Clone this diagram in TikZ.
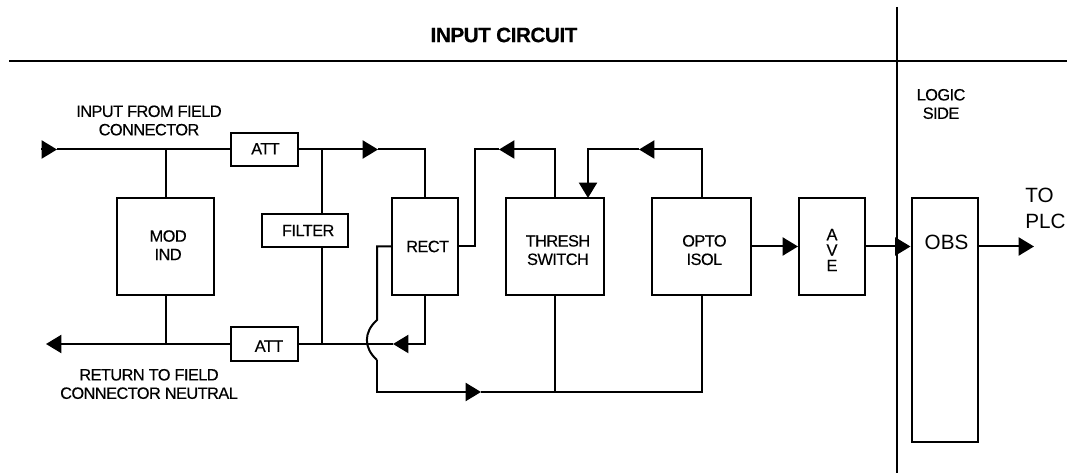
\documentclass[tikz,border=0pt]{standalone}
\usepackage{fontspec}
\setmainfont[LetterSpace=-3.6,FakeBold=0.3,BoldFeatures={LetterSpace=-2.5}]{Liberation Sans}
\newfontfamily\widefont{Liberation Sans}
\usetikzlibrary{arrows.meta}

\begin{document}
\begin{tikzpicture}[
  x=0.75pt, y=-0.75pt,
  wire/.style={line width=1.5pt},
  arr/.style={wire, -{Triangle[length=11.5pt, width=13.5pt]}},
  boxnode/.style={rectangle, draw, line width=1.5pt, inner sep=0pt, minimum width=#1*0.75pt},
  smalltxt/.style={font=\fontsize{12.3}{13.8}\selectfont, align=center, inner sep=0pt},
  bigtxt/.style={font=\widefont\fontsize{15.5}{19}\selectfont, align=left, inner sep=0pt}
]
  \useasboundingbox (0,0) rectangle (1067,473);

  \node[smalltxt, font=\bfseries\fontsize{15.6}{18}\selectfont] (title) at (504,35) {INPUT CIRCUIT};
  \draw[wire] (9,61.5) coordinate (hl) -- (1067,61.5) coordinate (hr);
  \draw[wire] (897,7) coordinate (vt) -- (897,473) coordinate (vb);

  \node[smalltxt] (infield) at (149,120.5) {INPUT FROM FIELD\\CONNECTOR};
  \node[smalltxt] (retfield) at (149,384) {RETURN TO FIELD\\CONNECTOR NEUTRAL};
  \node[smalltxt] (logic) at (941,104) {LOGIC\\SIDE};
  \node[bigtxt, anchor=west] (toplc) at (1025,208.5) {TO\\PLC};

  \node[boxnode=67, minimum height=25pt, label={[smalltxt, xshift=0.75pt, yshift=0.5pt]center:ATT}] (att1) at (264.5,149.5) {};
  \node[boxnode=67, minimum height=25pt, label={[smalltxt, xshift=3.4pt, yshift=-1.6pt]center:ATT}] (att2) at (264.5,344) {};
  \node[boxnode=97, minimum height=73pt, label={[smalltxt, xshift=2pt, yshift=1pt]center:MOD\\IND}] (mod) at (165.5,246.5) {};
  \node[boxnode=86, minimum height=25pt, label={[smalltxt, xshift=2.4pt]center:FILTER}] (filter) at (305,230.5) {};
  \node[boxnode=66, minimum height=73pt, label={[smalltxt, xshift=2pt]center:RECT}] (rect) at (425,246.5) {};
  \node[boxnode=98, minimum height=73pt, label={[smalltxt, xshift=2.2pt, yshift=-2.7pt]center:THRESH\\SWITCH}] (thresh) at (555,246.5) {};
  \node[boxnode=99, minimum height=73pt, label={[smalltxt, xshift=2.2pt, yshift=-2.7pt]center:OPTO\\ISOL}] (opto) at (701.5,246.5) {};
  \node[boxnode=66, minimum height=73pt, label={[smalltxt, font=\fontsize{12.3}{11.6}\selectfont, yshift=-2.7pt]center:A\\V\\E}] (ave) at (832,246.5) {};
  \node[boxnode=66, minimum height=183pt, label={[bigtxt, font=\widefont\fontsize{15.5}{18}\selectfont, xshift=1.5pt, yshift=58pt]center:OBS}] (obs) at (944.5,320) {};

  % arrow ends on the wires
  \coordinate (in0) at (41,149.5);
  \coordinate (in1) at (57,149.5);
  \coordinate (out1) at (46,344);
  \coordinate (fj) at (322,149.5);
  \coordinate (t1) at (378,149.5);
  \coordinate (t2) at (393,344);
  \coordinate (jt) at (377,320);
  \coordinate (jb) at (377,360);
  \coordinate (t3) at (481,392);
  \coordinate (r1) at (475,149.5);
  \coordinate (t4) at (499,149.5);
  \coordinate (t5) at (639,149.5);
  \coordinate (t6) at (588,198);
  \coordinate (t7) at (1034,246.5);

  \draw[arr] (in0) -- (in1);
  \draw[wire] (in1) -- (att1.west);
  \draw[wire] (mod.north) -- (mod.north |- in1);
  \draw[wire] (mod.south) -- (mod.south |- att2.west);
  \draw[arr] (att2.west) -- (out1);
  \draw[arr] (att1.east) -- (t1);
  \draw[wire] (t1) -| (rect.north);
  \draw[wire] (fj) -- (fj |- filter.north);
  \draw[wire] (fj |- filter.south) -- (fj |- att2.east);
  \draw[arr] (rect.south) |- (t2);
  \draw[wire] (t2) -- (att2.east);
  \draw[wire] (rect.west) -| (jt) .. controls (363.5,332) and (363.5,348) .. (jb);
  \draw[arr] (jb) |- (t3);
  \draw[wire] (t3) -| (opto.south);
  \draw[wire] (thresh.south) -- (thresh.south |- t3);
  \draw[arr] (thresh.north) |- (t4);
  \draw[wire] (t4) -- (r1) |- (rect.east);
  \draw[arr] (opto.north) |- (t5);
  \draw[arr] (t5) -| (t6);
  \draw[arr] (opto.east) -- (ave.west);
  \draw[arr] (ave.east) -- (obs.west |- ave.east);
  \draw[arr] (obs.east |- ave.east) -- (t7);
\end{tikzpicture}
\end{document}
